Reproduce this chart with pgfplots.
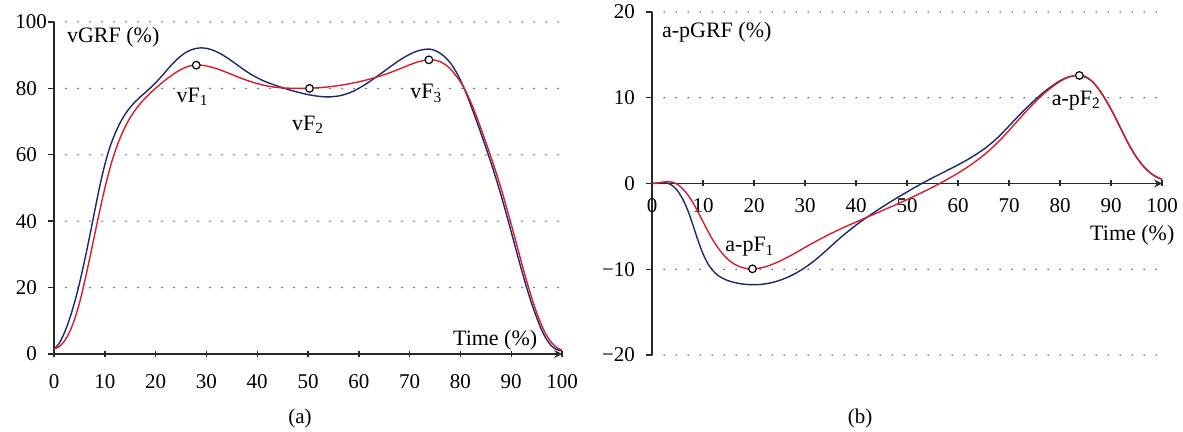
\documentclass[border=0pt]{standalone}
\usepackage{fontspec}
\setmainfont{Liberation Serif}
\usepackage{pgfplots}
\pgfplotsset{compat=1.18}
\definecolor{navyc}{RGB}{30,40,110}
\definecolor{redc}{RGB}{214,30,42}
\definecolor{axisc}{RGB}{40,40,40}

\pgfplotsset{gaitstyle/.style={
  scale only axis, clip=false,
  axis y line=left,
  axis line style={-, draw=axisc, line width=0.75pt},
  every tick/.style={draw=axisc, line width=0.7pt},
  major tick length=3pt,
  tick align=outside,
  ymajorgrids,
  major grid style={draw=black!85, line width=0.75pt, line cap=round, dash pattern=on 0pt off 6pt},
  xmin=0, xmax=100,
  xtick={0,10,...,100},
  tick label style={font=\fontsize{10.5}{12}\selectfont},
  yticklabel style={xshift=-2pt},
  /pgf/number format/assume math mode=true,
}}

% vertical GRF, one point per 1 % of stance
\pgfplotstableread{
x blue red
0 1.5 1.5
1 3.2 2.2
2 6.2 3.8
3 10.3 6.4
4 15.3 10.2
5 21.2 15.3
6 28.0 21.6
7 35.3 28.6
8 43.0 35.9
9 50.5 43.1
10 57.0 49.9
11 62.3 55.9
12 66.3 60.9
13 69.6 65.0
14 72.2 68.4
15 74.3 71.2
16 76.0 73.5
17 77.45 75.45
18 78.8 77.15
19 80.2 78.65
20 81.7 80.05
21 83.35 81.35
22 85.1 82.6
23 86.85 83.75
24 88.45 84.8
25 89.8 85.7
26 90.85 86.4
27 91.6 86.85
28 92.05 87.05
29 92.2 87.0
30 92.05 86.75
31 91.65 86.4
32 91.05 85.95
33 90.25 85.4
34 89.3 84.8
35 88.25 84.18
36 87.15 83.56
37 86.05 82.96
38 85.0 82.41
39 84.05 81.91
40 83.2 81.46
41 82.45 81.06
42 81.8 80.73
43 81.25 80.47
44 80.7 80.28
45 80.2 80.15
46 79.72 80.07
47 79.27 80.03
48 78.85 80.02
49 78.47 80.02
50 78.14 80.04
51 77.86 80.1
52 77.64 80.19
53 77.49 80.31
54 77.44 80.46
55 77.52 80.64
56 77.72 80.85
57 78.07 81.09
58 78.57 81.36
59 79.22 81.66
60 80.02 81.99
61 80.92 82.35
62 81.92 82.74
63 82.97 83.16
64 84.07 83.62
65 85.19 84.12
66 86.31 84.66
67 87.41 85.24
68 88.46 85.85
69 89.41 86.47
70 90.26 87.09
71 90.96 87.66
72 91.46 88.13
73 91.76 88.46
74 91.81 88.6
75 91.41 88.5
76 90.61 88.05
77 89.41 87.2
78 87.71 85.9
79 85.41 84.1
80 82.51 82.0
81 79.01 79.3
82 75.11 76.0
83 70.96 72.2
84 66.66 68.1
85 62.26 63.8
86 57.71 59.4
87 52.91 54.8
88 47.81 49.9
89 42.41 44.6
90 36.81 39.1
91 31.11 33.4
92 25.51 27.7
93 20.21 22.2
94 15.31 17.1
95 11.01 12.5
96 7.21 8.6
97 4.31 5.5
98 2.31 3.3
99 1.31 1.9
100 0.91 1.2
}\vgrf

% anterior-posterior GRF
\pgfplotstableread{
x blue red
0 0 0
1 0.05 0.05
2 0.1 0.15
3 0.05 0.2
4 -0.25 0.15
5 -0.85 -0.1
6 -1.8 -0.6
7 -3.1 -1.3
8 -4.8 -2.2
9 -6.6 -3.3
10 -8.2 -4.45
11 -9.4 -5.6
12 -10.2 -6.65
13 -10.75 -7.55
14 -11.1 -8.3
15 -11.35 -8.9
16 -11.52 -9.35
17 -11.65 -9.65
18 -11.74 -9.85
19 -11.79 -9.95
20 -11.8 -9.95
21 -11.78 -9.88
22 -11.72 -9.75
23 -11.62 -9.56
24 -11.48 -9.33
25 -11.3 -9.07
26 -11.08 -8.78
27 -10.82 -8.47
28 -10.52 -8.14
29 -10.18 -7.8
30 -9.8 -7.45
31 -9.38 -7.12
32 -8.92 -6.79
33 -8.42 -6.47
34 -7.9 -6.16
35 -7.36 -5.86
36 -6.82 -5.57
37 -6.3 -5.29
38 -5.8 -5.02
39 -5.32 -4.76
40 -4.86 -4.5
41 -4.42 -4.24
42 -4.0 -3.98
43 -3.59 -3.72
44 -3.19 -3.46
45 -2.8 -3.2
46 -2.42 -2.94
47 -2.05 -2.68
48 -1.69 -2.42
49 -1.34 -2.15
50 -0.99 -1.88
51 -0.64 -1.6
52 -0.3 -1.32
53 0.03 -1.03
54 0.35 -0.74
55 0.66 -0.44
56 0.96 -0.13
57 1.26 0.19
58 1.56 0.52
59 1.86 0.86
60 2.17 1.21
61 2.49 1.58
62 2.83 1.97
63 3.19 2.38
64 3.57 2.82
65 3.98 3.29
66 4.43 3.79
67 4.93 4.33
68 5.48 4.91
69 6.08 5.53
70 6.71 6.18
71 7.34 6.85
72 7.96 7.52
73 8.56 8.18
74 9.14 8.82
75 9.7 9.43
76 10.23 10.01
77 10.73 10.55
78 11.19 11.05
79 11.6 11.5
80 11.98 11.9
81 12.28 12.23
82 12.48 12.46
83 12.58 12.6
84 12.55 12.62
85 12.4 12.48
86 12.05 12.08
87 11.45 11.47
88 10.65 10.67
89 9.7 9.72
90 8.65 8.67
91 7.5 7.52
92 6.3 6.32
93 5.1 5.12
94 4.0 4.02
95 3.05 3.07
96 2.25 2.27
97 1.6 1.62
98 1.1 1.12
99 0.73 0.75
100 0.48 0.5
}\apgrf

\begin{document}
\begin{tikzpicture}
\useasboundingbox (0,0) rectangle (591.5pt,-216pt);

% ---------- (a) vertical GRF ----------
\begin{axis}[gaitstyle,
  at={(27pt,-177pt)}, anchor=south west,
  width=254pt, height=166pt,
  axis x line=bottom,
  xticklabel style={yshift=-5pt},
  ymin=0, ymax=100, ytick={0,20,...,100},
  yticklabels={0,20,40,60,80,{100\hspace*{-5pt}}},
]
\addplot[navyc, line width=0.7pt, smooth] table[x=x, y=blue] {\vgrf};
\addplot[redc, line width=0.7pt, smooth] table[x=x, y=red] {\vgrf};
\addplot[only marks, mark=*, mark size=1.9pt, mark options={fill=white, draw=black, line width=0.6pt}]
  coordinates {(28,87) (50.3,80) (73.8,88.6)};
\node[font=\fontsize{11}{13}\selectfont] at (axis cs:27.3,77.5) {vF\textsubscript{1}};
\node[font=\fontsize{11}{13}\selectfont] at (axis cs:50,69) {vF\textsubscript{2}};
\node[font=\fontsize{11}{13}\selectfont] at (axis cs:73.3,78.5) {vF\textsubscript{3}};
\node[font=\fontsize{11}{13}\selectfont, anchor=west, inner sep=0pt] at (axis cs:2.5,95.5) {vGRF (\%)};
\node[font=\fontsize{11}{13}\selectfont, anchor=east, inner sep=0pt] at (axis cs:95.2,4.2) {Time (\%)};
\end{axis}

% ---------- (b) anterior-posterior GRF ----------
\begin{axis}[gaitstyle,
  at={(326pt,-177.5pt)}, anchor=south west,
  width=255pt, height=171.5pt,
  axis x line=middle,
  xticklabel style={yshift=-2.5pt},
  hide obscured x ticks=false, hide obscured y ticks=false,
  ymin=-20, ymax=20, ytick={-20,-10,0,10,20},
  yticklabels={−20,−10,0,10,20},
]
\addplot[navyc, line width=0.7pt, smooth] table[x=x, y=blue] {\apgrf};
\addplot[redc, line width=0.7pt, smooth] table[x=x, y=red] {\apgrf};
\addplot[only marks, mark=*, mark size=1.9pt, mark options={fill=white, draw=black, line width=0.6pt}]
  coordinates {(19.7,-9.95) (83.8,12.6)};
\node[font=\fontsize{11}{13}\selectfont] at (axis cs:19.2,-7.4) {a-pF\textsubscript{1}};
\node[font=\fontsize{11}{13}\selectfont] at (axis cs:83.2,9.7) {a-pF\textsubscript{2}};
\node[font=\fontsize{11}{13}\selectfont, anchor=west, inner sep=0pt] at (axis cs:1.9,17.6) {a-pGRF (\%)};
\node[font=\fontsize{11}{13}\selectfont, anchor=east, inner sep=0pt] at (axis cs:102.5,-6) {Time (\%)};
\end{axis}

\node[font=\fontsize{10.5}{12}\selectfont] at (150pt,-209pt) {(a)};
\node[font=\fontsize{10.5}{12}\selectfont] at (430pt,-209pt) {(b)};
\end{tikzpicture}
\end{document}
